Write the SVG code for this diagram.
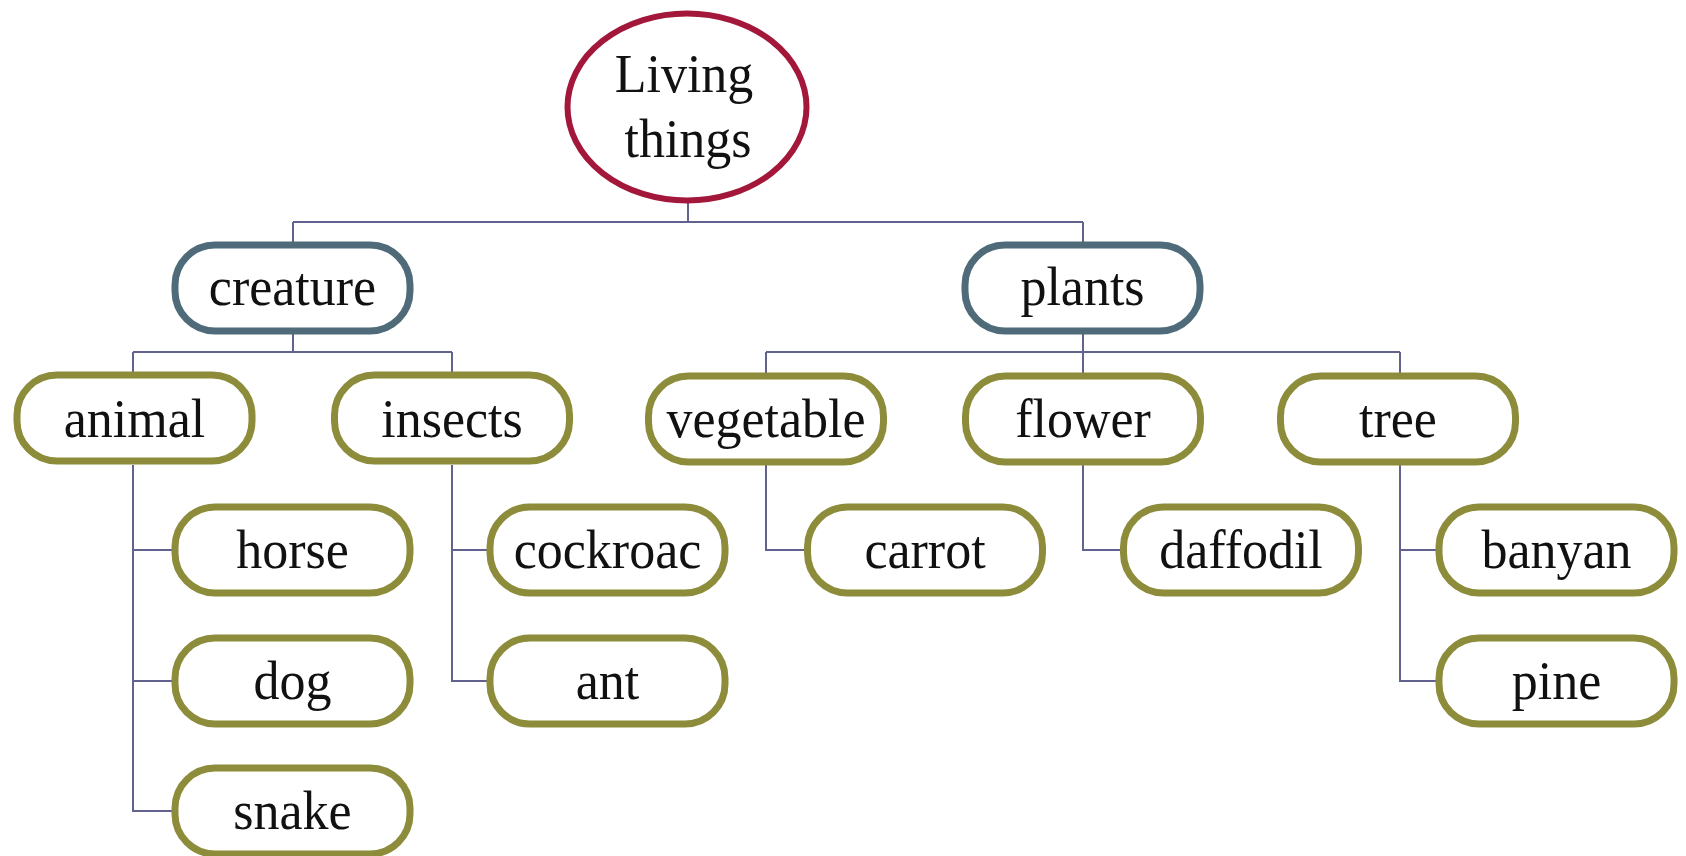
<svg xmlns="http://www.w3.org/2000/svg" width="1686" height="856" viewBox="0 0 1686 856">
<style>
.leaf{fill:#fff;stroke:#8C8C3A;stroke-width:7}
.mid{fill:#fff;stroke:#4F6B7A;stroke-width:7}
.root{fill:#fff;stroke:#A3183A;stroke-width:6}
.lbl{font-family:"Liberation Serif","Times New Roman",serif;font-size:52px;fill:#111;text-anchor:middle}
.conn{fill:none;stroke:#62628F;stroke-width:2}
</style>
<rect width="1686" height="856" fill="#fff"/>
<g id="connectors" class="conn">
<path d="M688,201V222M293,222H1083M293,222V244M1083,222V244"/>
<path d="M293,333V352M133,352H452M133,352V373M452,352V373"/>
<path d="M1083,333V352M766,352H1400M766,352V374M1083,352V374M1400,352V374"/>
<path d="M133,465V811H174M133,550H174M133,681H174"/>
<path d="M452,465V681H489M452,550H489"/>
<path d="M766,465V550H806"/>
<path d="M1083,465V550H1122"/>
<path d="M1400,465V681H1437M1400,550H1437"/>
</g>
<g id="root"><ellipse class="root" cx="687" cy="107" rx="119.5" ry="93.5"/>
<text class="lbl" transform="translate(684,92) scale(1,1.05)">Living</text>
<text class="lbl" transform="translate(688,157) scale(1,1.05)">things</text></g>
<g id="creature"><rect class="mid" x="175" y="245" width="235" height="86" rx="40"/><text class="lbl" transform="translate(292.5,305) scale(1,1.05)">creature</text></g>
<g id="plants"><rect class="mid" x="965" y="245" width="235" height="86" rx="40"/><text class="lbl" transform="translate(1082.5,305) scale(1,1.05)">plants</text></g>
<g id="animal"><rect class="leaf" x="17" y="375" width="235" height="86" rx="40"/><text class="lbl" transform="translate(134.5,437) scale(1,1.05)">animal</text></g>
<g id="insects"><rect class="leaf" x="334.5" y="375" width="235" height="86" rx="40"/><text class="lbl" transform="translate(452,437) scale(1,1.05)">insects</text></g>
<g id="vegetable"><rect class="leaf" x="648.5" y="376" width="235" height="86" rx="40"/><text class="lbl" transform="translate(766,437) scale(1,1.05)">vegetable</text></g>
<g id="flower"><rect class="leaf" x="965.5" y="376" width="235" height="86" rx="40"/><text class="lbl" transform="translate(1083,437) scale(1,1.05)">flower</text></g>
<g id="tree"><rect class="leaf" x="1280.5" y="376" width="235" height="86" rx="40"/><text class="lbl" transform="translate(1398,437) scale(1,1.05)">tree</text></g>
<g id="horse"><rect class="leaf" x="175" y="507" width="235" height="86" rx="40"/><text class="lbl" transform="translate(292.5,568) scale(1,1.05)">horse</text></g>
<g id="dog"><rect class="leaf" x="175" y="638" width="235" height="86" rx="40"/><text class="lbl" transform="translate(292.5,699) scale(1,1.05)">dog</text></g>
<g id="snake"><rect class="leaf" x="175" y="768" width="235" height="86" rx="40"/><text class="lbl" transform="translate(292.5,829) scale(1,1.05)">snake</text></g>
<g id="cockroac"><rect class="leaf" x="490" y="507" width="235" height="86" rx="40"/><text class="lbl" transform="translate(607.5,568) scale(1,1.05)">cockroac</text></g>
<g id="ant"><rect class="leaf" x="490" y="638" width="235" height="86" rx="40"/><text class="lbl" transform="translate(607.5,699) scale(1,1.05)">ant</text></g>
<g id="carrot"><rect class="leaf" x="807.5" y="507" width="235" height="86" rx="40"/><text class="lbl" transform="translate(925,568) scale(1,1.05)">carrot</text></g>
<g id="daffodil"><rect class="leaf" x="1123.5" y="507" width="235" height="86" rx="40"/><text class="lbl" transform="translate(1241,568) scale(1,1.05)">daffodil</text></g>
<g id="banyan"><rect class="leaf" x="1439" y="507" width="235" height="86" rx="40"/><text class="lbl" transform="translate(1556.5,568) scale(1,1.05)">banyan</text></g>
<g id="pine"><rect class="leaf" x="1439" y="638" width="235" height="86" rx="40"/><text class="lbl" transform="translate(1556.5,699) scale(1,1.05)">pine</text></g>
</svg>
